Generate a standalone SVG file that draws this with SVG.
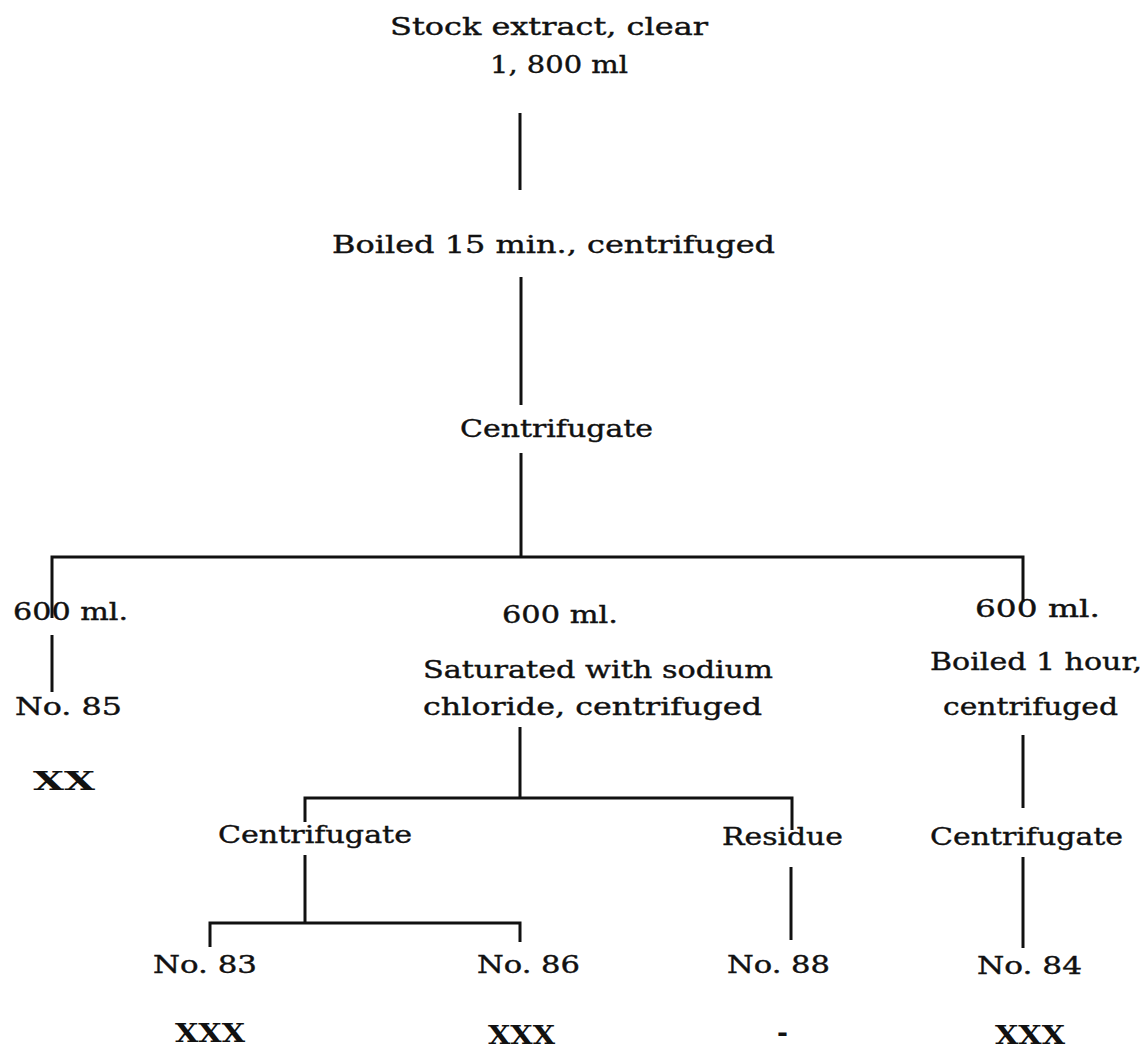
<svg xmlns="http://www.w3.org/2000/svg" width="1148" height="1051" viewBox="0 0 1148 1051">
  <style>
    text { font-family: "DejaVu Serif", "Liberation Serif", serif; font-size: 25px; fill: #111; stroke: #111; stroke-width: 0.4; }
    .xx { font-size: 26px; font-weight: bold; stroke-width: 0; }
    .link { stroke: #111; stroke-width: 3; fill: none; }
  </style>
  <rect width="1148" height="1051" fill="#fff"/>

  <!-- connectors -->
  <g id="connectors" class="link">
    <path d="M520,113 V190"/>
    <path d="M521,277 V405"/>
    <path d="M521,453 V557"/>
    <path d="M52,618 V557 H1023 V602"/>
    <path d="M52,635 V692"/>
    <path d="M520,727 V798"/>
    <path d="M305,822 V798 H792 V830"/>
    <path d="M791,867 V940"/>
    <path d="M1023,735 V808"/>
    <path d="M1023,857 V948"/>
    <path d="M305,855 V923"/>
    <path d="M210,947 V923 H520 V942"/>
  </g>

  <!-- nodes: every label is stretched to the width of the typewritten original -->
  <g id="stock">
    <text x="390" y="35" textLength="318" lengthAdjust="spacingAndGlyphs">Stock extract, clear</text>
    <text x="490" y="73" textLength="138" lengthAdjust="spacingAndGlyphs">1, 800 ml</text>
  </g>
  <g id="boiled15">
    <text x="332" y="253" textLength="443" lengthAdjust="spacingAndGlyphs">Boiled 15 min., centrifuged</text>
  </g>
  <g id="centrifugate-main">
    <text x="460" y="437" textLength="193" lengthAdjust="spacingAndGlyphs">Centrifugate</text>
  </g>

  <g id="portion-left">
    <text x="13" y="620" textLength="115" lengthAdjust="spacingAndGlyphs">600 ml.</text>
  </g>
  <g id="no85">
    <text x="15" y="715" textLength="107" lengthAdjust="spacingAndGlyphs">No. 85</text>
    <text class="xx" x="33" y="790" textLength="62" lengthAdjust="spacingAndGlyphs">XX</text>
  </g>

  <g id="portion-middle">
    <text x="502" y="623" textLength="116" lengthAdjust="spacingAndGlyphs">600 ml.</text>
    <text x="423" y="678" textLength="350" lengthAdjust="spacingAndGlyphs">Saturated with sodium</text>
    <text x="423" y="715" textLength="339" lengthAdjust="spacingAndGlyphs">chloride, centrifuged</text>
  </g>
  <g id="centrifugate-salt">
    <text x="218" y="843" textLength="194" lengthAdjust="spacingAndGlyphs">Centrifugate</text>
  </g>
  <g id="residue">
    <text x="722" y="845" textLength="121" lengthAdjust="spacingAndGlyphs">Residue</text>
  </g>
  <g id="no83">
    <text x="153" y="973" textLength="104" lengthAdjust="spacingAndGlyphs">No. 83</text>
    <text class="xx" x="175" y="1042" textLength="70" lengthAdjust="spacingAndGlyphs">XXX</text>
  </g>
  <g id="no86">
    <text x="477" y="973" textLength="103" lengthAdjust="spacingAndGlyphs">No. 86</text>
    <text class="xx" x="488" y="1044" textLength="67" lengthAdjust="spacingAndGlyphs">XXX</text>
  </g>
  <g id="no88">
    <text x="727" y="973" textLength="103" lengthAdjust="spacingAndGlyphs">No. 88</text>
    <text class="xx" x="777" y="1041" textLength="11" lengthAdjust="spacingAndGlyphs">-</text>
  </g>

  <g id="portion-right">
    <text x="975" y="617" textLength="125" lengthAdjust="spacingAndGlyphs">600 ml.</text>
    <text x="930" y="670" textLength="212" lengthAdjust="spacingAndGlyphs">Boiled 1 hour,</text>
    <text x="943" y="715" textLength="175" lengthAdjust="spacingAndGlyphs">centrifuged</text>
  </g>
  <g id="centrifugate-boiled">
    <text x="930" y="845" textLength="193" lengthAdjust="spacingAndGlyphs">Centrifugate</text>
  </g>
  <g id="no84">
    <text x="977" y="974" textLength="105" lengthAdjust="spacingAndGlyphs">No. 84</text>
    <text class="xx" x="995" y="1044" textLength="70" lengthAdjust="spacingAndGlyphs">XXX</text>
  </g>
</svg>
